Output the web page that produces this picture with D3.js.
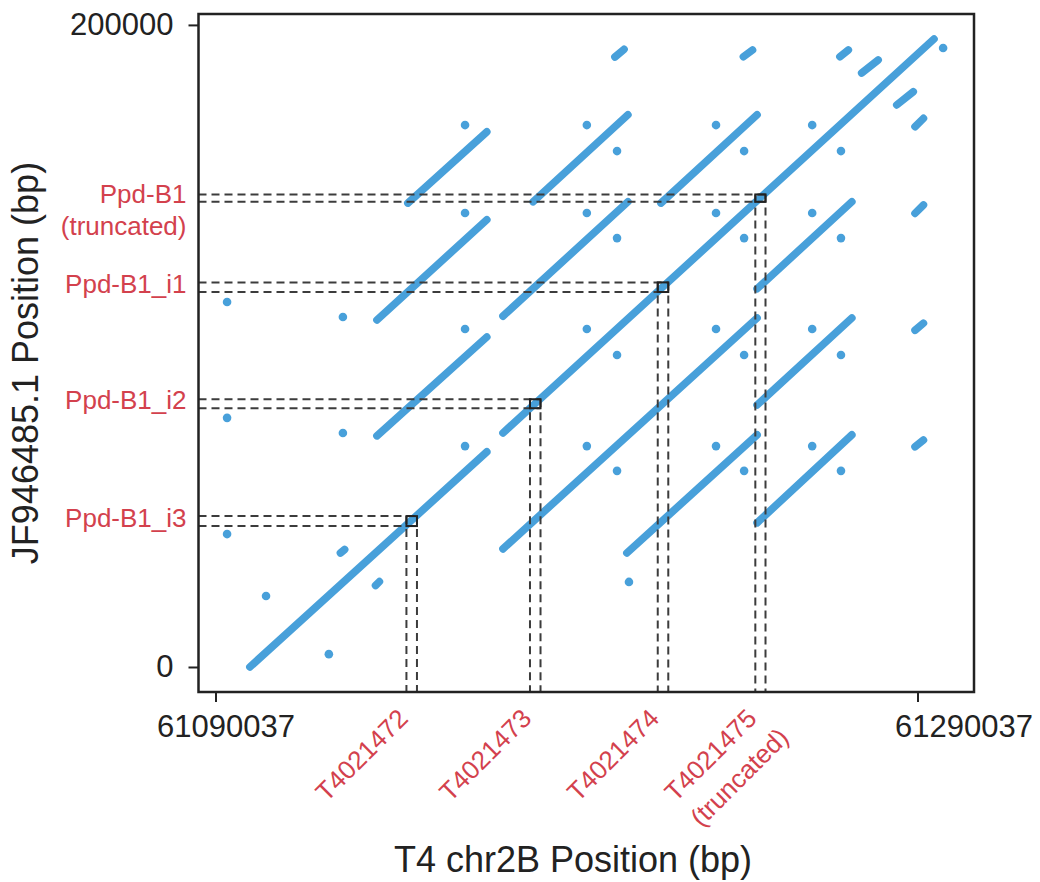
<!DOCTYPE html>
<html>
<head>
<meta charset="utf-8">
<script src="https://cdn.jsdelivr.net/npm/d3@7"></script>
<style>
  body { margin: 0; background: #fff; }
  svg { font-family: "Liberation Sans", Arial, sans-serif; }
</style>
</head>
<body>
<svg id="dotplot" width="1040" height="882"></svg>
<script>
// positions in kb: x from 61090037 on T4 chr2B, y on JF946485.1
var xStart = 61090037;
var xTicks = [61090037, 61290037];
var yTicks = [0, 200000];
var xDomain = [61085197, 61306137];
var yDomain = [-7790, 203400];

// long alignment segments [x1, y1, x2, y2]
var mainSegments = [
  [9.8, 0.0, 77.3, 67.0],
  [81.9, 72.9, 204.7, 195.6]
];
var repeatSegments = [
  [46.0, 72.0, 77.3, 102.8],
  [46.0, 108.1, 77.3, 139.3],
  [54.8, 144.5, 77.3, 166.7],
  [81.9, 36.8, 154.3, 108.7],
  [81.9, 109.3, 117.5, 144.9],
  [90.5, 144.9, 117.5, 172.0],
  [117.2, 35.5, 154.3, 72.3],
  [126.9, 144.5, 154.3, 172.0],
  [154.3, 44.9, 181.3, 72.3],
  [154.3, 81.6, 181.3, 108.7],
  [154.3, 117.8, 181.3, 144.9]
];
// short hits
var shortSegments = [
  [35.6, 35.5, 36.8, 36.6],
  [45.6, 25.4, 46.7, 26.6],
  [113.8, 190.0, 116.4, 192.4],
  [150.4, 190.1, 153.0, 192.2],
  [177.9, 190.1, 180.3, 192.2],
  [184.1, 185.0, 188.8, 189.1],
  [194.1, 175.1, 198.8, 179.2],
  [199.3, 168.3, 201.7, 170.9],
  [199.3, 141.3, 201.7, 143.9],
  [199.3, 104.9, 201.7, 107.1],
  [199.3, 68.6, 201.7, 70.7]
];
// single point hits [x, y]
var dots = [
  [3.3, 113.7], [3.3, 77.6], [3.3, 41.4],
  [36.3, 109.0], [36.3, 72.9], [14.4, 22.1], [32.3, 4.0],
  [71.1, 168.8], [71.1, 141.4], [71.1, 105.3], [71.1, 68.8],
  [105.8, 168.8], [105.8, 141.4], [105.8, 105.3], [105.8, 68.8],
  [114.4, 160.7], [114.4, 133.6], [114.4, 97.2], [114.4, 61.1],
  [142.6, 168.8], [142.6, 141.4], [142.6, 105.3], [142.6, 68.8],
  [150.6, 160.7], [150.6, 133.6], [150.6, 97.2], [150.6, 61.1],
  [170.0, 168.8], [170.0, 141.4], [170.0, 105.3], [170.0, 68.8],
  [178.2, 160.7], [178.2, 133.6], [178.2, 97.2], [178.2, 61.1],
  [117.8, 26.5], [207.3, 192.8]
];

// genes, index aligned (x gene i matches y gene i)
var xGeneNames = [["T4021472"], ["T4021473"], ["T4021474"], ["T4021475", "(truncated)"]];
var xGeneStart = [54.4, 89.6, 126.0, 153.8];
var xGeneEnd = [57.4, 92.6, 129.0, 156.7];
var yGeneNames = [["Ppd-B1_i3"], ["Ppd-B1_i2"], ["Ppd-B1_i1"], ["Ppd-B1", "(truncated)"]];
var yGeneStart = [43.9, 80.6, 116.8, 144.9];
var yGeneEnd = [47.0, 83.4, 119.8, 147.2];

var svg = d3.select("#dotplot");
var margin = { top: 14, left: 198.5 };
var width = 775.5;
var height = 678;
var blue = "#48a0da";
var red = "#d3414d";

var g = svg.append("g")
  .attr("transform", "translate(" + margin.left + "," + margin.top + ")");

var x = d3.scaleLinear().domain(xDomain).range([0, width]);
var y = d3.scaleLinear().domain(yDomain).range([height, 0]);
function xk(v) { return x(xStart + v * 1000); }
function yk(v) { return y(v * 1000); }

var segs = mainSegments.concat(repeatSegments).concat(shortSegments);
g.append("g")
  .selectAll("line")
  .data(segs)
  .enter()
  .append("line")
  .attr("x1", function (d) { return xk(d[0]); })
  .attr("y1", function (d) { return yk(d[1]); })
  .attr("x2", function (d) { return xk(d[2]); })
  .attr("y2", function (d) { return yk(d[3]); })
  .attr("stroke", blue)
  .attr("stroke-width", 7.6)
  .attr("stroke-linecap", "round");

g.append("g")
  .selectAll("circle")
  .data(dots)
  .enter()
  .append("circle")
  .attr("cx", function (d) { return xk(d[0]); })
  .attr("cy", function (d) { return yk(d[1]); })
  .attr("r", 4.3)
  .attr("fill", blue);

// dashed guides for each gene pair
var guides = g.append("g")
  .attr("stroke", "#3c3c3c")
  .attr("stroke-width", 2)
  .attr("fill", "none");
xGeneStart.forEach(function (xs, i) {
  var xe = xGeneEnd[i], ys = yGeneStart[i], ye = yGeneEnd[i];
  [ys, ye].forEach(function (v) {
    guides.append("line")
      .attr("x1", 0).attr("x2", xk(xe))
      .attr("y1", yk(v)).attr("y2", yk(v))
      .attr("stroke-dasharray", "8,5");
  });
  [xs, xe].forEach(function (v) {
    guides.append("line")
      .attr("x1", xk(v)).attr("x2", xk(v))
      .attr("y1", yk(ye)).attr("y2", height)
      .attr("stroke-dasharray", "8,5");
  });
  guides.append("rect")
    .attr("x", xk(xs)).attr("y", yk(ye))
    .attr("width", xk(xe) - xk(xs))
    .attr("height", yk(ys) - yk(ye))
    .attr("stroke", "#222");
});

// frame
g.append("rect")
  .attr("width", width)
  .attr("height", height)
  .attr("fill", "none")
  .attr("stroke", "#222")
  .attr("stroke-width", 2.5);

// axes
var xAxis = g.append("g")
  .attr("transform", "translate(0," + height + ")")
  .call(d3.axisBottom(x).tickValues(xTicks).tickSize(10).tickSizeOuter(0).tickPadding(13).tickFormat(d3.format("d")));
xAxis.select(".domain").remove();
xAxis.selectAll("line").attr("stroke", "#222").attr("stroke-width", 2);
xAxis.selectAll("text")
  .attr("font-size", "31px")
  .attr("fill", "#222")
  .attr("dx", function (d, i) { return i === 0 ? 10 : 46; });

var yAxis = g.append("g")
  .call(d3.axisLeft(y).tickValues(yTicks).tickSize(10).tickSizeOuter(0).tickPadding(15).tickFormat(d3.format("d")));
yAxis.select(".domain").remove();
yAxis.selectAll("line").attr("stroke", "#222").attr("stroke-width", 2);
yAxis.selectAll("text")
  .attr("font-size", "31px")
  .attr("fill", "#222");

// gene labels
var yLab = g.append("g")
  .attr("font-size", "26px")
  .attr("fill", red)
  .attr("text-anchor", "end");
yGeneNames.forEach(function (lines, i) {
  var t = yLab.append("text")
    .attr("x", -12)
    .attr("y", yk(yGeneStart[i]) + 1);
  lines.forEach(function (s, j) {
    t.append("tspan").attr("x", -12).attr("dy", j === 0 ? 0 : 32).text(s);
  });
});

var xLab = g.append("g")
  .attr("font-size", "26px")
  .attr("fill", red)
  .attr("text-anchor", "end");
xGeneNames.forEach(function (lines, i) {
  var t = xLab.append("text")
    .attr("transform", "translate(" + (xk(xGeneStart[i]) + 3) + "," + (height + 28) + ") rotate(-45)");
  lines.forEach(function (s, j) {
    t.append("tspan").attr("x", j === 0 ? 0 : 9).attr("dy", j === 0 ? 0 : 36).text(s);
  });
});

// axis titles
svg.append("text")
  .attr("x", 573)
  .attr("y", 872)
  .attr("text-anchor", "middle")
  .attr("font-size", "36px")
  .attr("fill", "#222")
  .text("T4 chr2B Position (bp)");

svg.append("text")
  .attr("transform", "translate(38,363) rotate(-90)")
  .attr("text-anchor", "middle")
  .attr("font-size", "36px")
  .attr("fill", "#222")
  .text("JF946485.1 Position (bp)");
</script>
</body>
</html>
